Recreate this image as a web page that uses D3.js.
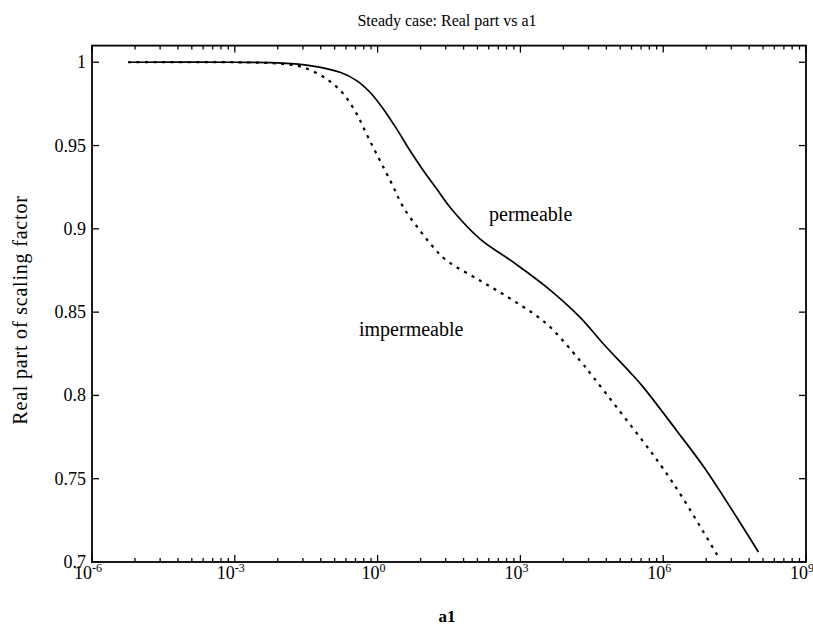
<!DOCTYPE html>
<html>
<head>
<meta charset="utf-8">
<script src="https://cdn.jsdelivr.net/npm/d3@7"></script>
<style>
  body { margin: 0; background: #fff; }
  text { font-family: "Liberation Serif", "DejaVu Serif", serif; fill: #000; }
</style>
</head>
<body>
<svg id="chart" width="813" height="630"></svg>
<script>
// data: exponent of a1 (log10) and real part
var permExp = [-5.24, -3.0, -2.0, -1.42, -0.79, -0.44, -0.16, 0.12, 0.40, 0.68, 0.96, 1.24, 1.52,
               2.15, 2.85, 3.55, 4.25, 4.74, 5.30, 5.58, 6.28, 6.88, 7.54, 8.0];
var permVal = [1.000, 1.000, 0.9995, 0.998, 0.994, 0.989, 0.982, 0.972, 0.960, 0.947, 0.935, 0.924, 0.913,
               0.894, 0.880, 0.865, 0.847, 0.831, 0.814, 0.805, 0.779, 0.756, 0.727, 0.706];

var impExp = [-5.24, -3.0, -2.0, -1.57, -1.07, -0.72, -0.44, -0.20, 0.05, 0.30, 0.54, 0.89, 1.17,
              1.45, 2.15, 2.85, 3.55, 4.25, 4.53, 5.02, 5.72, 6.0, 6.42, 7.16];
var impVal = [1.000, 1.000, 0.999, 0.997, 0.990, 0.981, 0.969, 0.955, 0.941, 0.927, 0.913, 0.899, 0.889,
              0.881, 0.869, 0.857, 0.843, 0.821, 0.811, 0.793, 0.767, 0.756, 0.738, 0.703];

var xMajorExp = [-6, -3, 0, 3, 6, 9];
var yTicks = [0.7, 0.75, 0.8, 0.85, 0.9, 0.95, 1];
var yTickLabels = ["0.7", "0.75", "0.8", "0.85", "0.9", "0.95", "1"];

var plotL = 92, plotR = 806, plotT = 45.6, plotB = 562;

var svg = d3.select("#chart");

var x = d3.scaleLog().domain([1e-6, 1e9]).range([plotL, plotR]);
var y = d3.scaleLinear().domain([0.7, 1.01]).range([plotB, plotT]);

// minor ticks: old style, each 3-decade step split like one decade
var minor = [];
for (var i = 0; i < xMajorExp.length - 1; i++)
    for (var k = 2; k <= 9; k++)
        minor.push(Math.pow(10, xMajorExp[i] + 3 * Math.log10(k)));
var major = xMajorExp.map(function(e) { return Math.pow(10, e); });

var g = svg.append("g");

// ticks on bottom and top
[[plotB, -1], [plotT, 1]].forEach(function(s)
{
    g.selectAll(null).data(minor).enter().append("line")
        .attr("x1", function(d) { return x(d); }).attr("x2", function(d) { return x(d); })
        .attr("y1", s[0]).attr("y2", s[0] + s[1] * 4)
        .attr("stroke", "#000").attr("stroke-width", 1.3);
    g.selectAll(null).data(major).enter().append("line")
        .attr("x1", function(d) { return x(d); }).attr("x2", function(d) { return x(d); })
        .attr("y1", s[0]).attr("y2", s[0] + s[1] * 7)
        .attr("stroke", "#000").attr("stroke-width", 1.3);
});

// ticks on left and right
[[plotL, 1], [plotR, -1]].forEach(function(s)
{
    g.selectAll(null).data(yTicks).enter().append("line")
        .attr("x1", s[0]).attr("x2", s[0] + s[1] * 7)
        .attr("y1", function(d) { return y(d); }).attr("y2", function(d) { return y(d); })
        .attr("stroke", "#000").attr("stroke-width", 1.3);
});

// frame
g.append("rect")
    .attr("x", plotL).attr("y", plotT)
    .attr("width", plotR - plotL).attr("height", plotB - plotT)
    .attr("fill", "none").attr("stroke", "#000").attr("stroke-width", 1.8);

// x tick labels with superscripts
var xl = g.selectAll(null).data(xMajorExp).enter().append("text")
    .attr("x", function(d) { return x(Math.pow(10, d)) - 4; })
    .attr("y", plotB + 17)
    .attr("text-anchor", "middle")
    .attr("font-size", 18);
xl.append("tspan").text("10");
xl.append("tspan").attr("dy", -7).attr("font-size", 12)
    .text(function(d) { return d; });

// y tick labels
g.selectAll(null).data(yTicks).enter().append("text")
    .attr("x", plotL - 6)
    .attr("y", function(d) { return y(d) + 6; })
    .attr("text-anchor", "end")
    .attr("font-size", 18)
    .text(function(d, i) { return yTickLabels[i]; });

// curves
var line = d3.line()
    .x(function(d) { return x(Math.pow(10, d[0])); })
    .y(function(d) { return y(d[1]); })
    .curve(d3.curveCatmullRom.alpha(0.5));

var perm = permExp.map(function(e, i) { return [e, permVal[i]]; });
var imp = impExp.map(function(e, i) { return [e, impVal[i]]; });

g.append("path").datum(imp).attr("d", line)
    .attr("fill", "none").attr("stroke", "#000").attr("stroke-width", 2.2)
    .attr("stroke-dasharray", "3,5.5");
g.append("path").datum(perm).attr("d", line)
    .attr("fill", "none").attr("stroke", "#000").attr("stroke-width", 1.7);

// curve labels
g.append("text").attr("x", 489).attr("y", 221).attr("font-size", 20).text("permeable");
g.append("text").attr("x", 359).attr("y", 336).attr("font-size", 20).text("impermeable");

// title and axis labels
svg.append("text").attr("x", 447).attr("y", 26).attr("text-anchor", "middle")
    .attr("font-size", 16).text("Steady case: Real part vs a1");
svg.append("text").attr("x", 447).attr("y", 622).attr("text-anchor", "middle")
    .attr("font-size", 17).attr("font-weight", "bold").text("a1");
svg.append("text")
    .attr("transform", "translate(27," + 310 + ") rotate(-90)")
    .attr("text-anchor", "middle")
    .attr("font-size", 20).attr("letter-spacing", 0.8)
    .text("Real part of scaling factor");
</script>
</body>
</html>
